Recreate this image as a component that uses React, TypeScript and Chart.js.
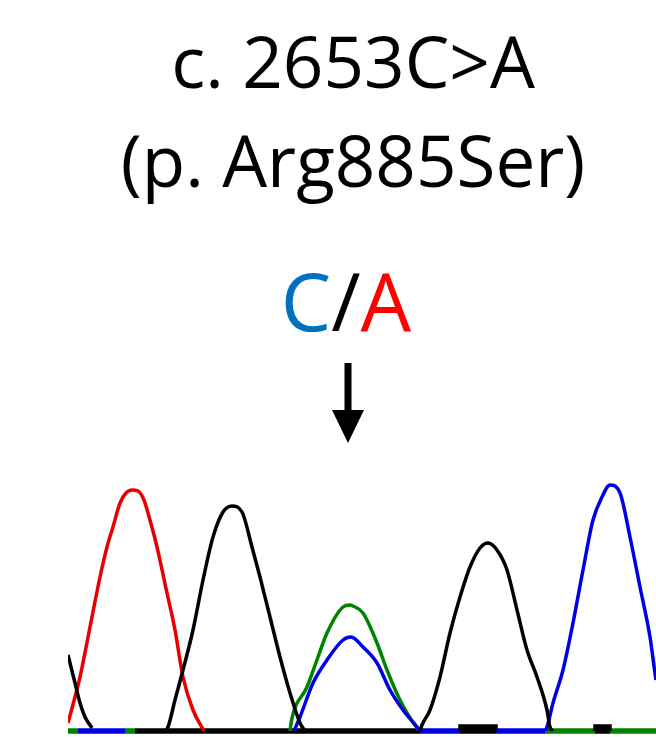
import { useEffect, useRef } from "react";
import { Chart, registerables } from "chart.js";

Chart.register(...registerables);

// Chromatogram traces: scan position (x) and signal intensity (y)
const redScan = [0, 12, 22, 32, 39, 45, 52, 58, 64, 70, 76, 80, 89, 99, 107, 115, 125, 136];
const redSignal = [8, 54, 104, 154, 184, 204, 228, 238, 241, 240, 231, 218, 184, 138, 101, 54, 21, 0];

const blackScan = [0, 7, 12, 17, 24, 60, 97, 100, 107, 115, 125, 135, 145, 155, 164, 174, 184, 192, 202, 212, 222, 232, 237, 300, 352, 354, 362, 372, 382, 392, 402, 412, 420, 429, 439, 449, 459, 469, 479, 482, 485];
const blackSignal = [76, 48, 28, 14, 3, null, 0, 4, 31, 61, 101, 151, 194, 219, 225, 219, 184, 154, 114, 74, 38, 8, 0, null, 0, 6, 21, 54, 98, 134, 164, 183, 188, 181, 161, 121, 81, 54, 21, 4, 0];

const greenScan = [222, 224, 239, 250, 259, 275, 282, 285, 295, 309, 319, 332, 349, 352];
const greenSignal = [0, 13, 44, 74, 98, 124, 126, 125, 118, 88, 61, 31, 3, 0];

const blueScan = [226, 232, 245, 259, 275, 283, 295, 309, 322, 335, 349, 352, 420, 477, 479, 485, 495, 505, 515, 525, 534, 542, 552, 562, 572, 582, 588, 594];
const blueSignal = [0, 14, 48, 71, 91, 94, 84, 68, 41, 21, 4, 0, null, 0, 4, 28, 61, 108, 161, 211, 234, 246, 238, 194, 144, 94, 51, 20];

// small black noise plateaus on the baseline
const noiseScan = [393, 393, 427, 427, 480, 528, 528, 541, 541];
const noiseSignal = [0, 4, 4, 0, null, 0, 4, 4, 0];

// baseline: which trace is on top along the scan
const baseStart = [0, 10, 57, 67, 352, 392, 428, 477, 527, 542];
const baseEnd = [10, 57, 67, 352, 392, 428, 477, 527, 542, 588];
const baseChannel = ["green", "blue", "green", "black", "blue", "black", "blue", "green", "black", "green"];

const COLORS: Record<string, string> = {
  red: "rgb(232,0,0)",
  black: "#000000",
  green: "rgb(0,132,0)",
  blue: "rgb(0,0,232)",
};

const FONT = "'Open Sans', 'Noto Sans', sans-serif";

export default function App() {
  const ref = useRef<HTMLCanvasElement>(null);

  useEffect(() => {
    const canvas = ref.current;
    if (!canvas) return;
    const pts = (xs: number[], ys: (number | null)[]) => xs.map((x, i) => ({ x, y: ys[i] }));
    const trace = (label: string, xs: number[], ys: (number | null)[], color: string, order: number) => ({
      label,
      data: pts(xs, ys),
      borderColor: color,
      backgroundColor: color,
      borderWidth: 3.5,
      pointRadius: 0,
      fill: false,
      spanGaps: false,
      cubicInterpolationMode: "monotone" as const,
      order,
    });
    const datasets: any[] = [
      trace("G", blackScan, blackSignal, COLORS.black, 1),
      trace("C", blueScan, blueSignal, COLORS.blue, 2),
      trace("T", redScan, redSignal, COLORS.red, 3),
      trace("A", greenScan, greenSignal, COLORS.green, 4),
      {
        ...trace("noise", noiseScan, noiseSignal, COLORS.black, 5),
        cubicInterpolationMode: "default",
        tension: 0,
        borderWidth: 5.5,
        clip: false,
      },
    ];
    baseStart.forEach((s, i) => {
      datasets.push({
        label: "baseline",
        data: [
          { x: s, y: 0 },
          { x: baseEnd[i], y: 0 },
        ],
        borderColor: COLORS[baseChannel[i]],
        borderWidth: 5.5,
        pointRadius: 0,
        fill: false,
        clip: false,
        order: 20,
      });
    });

    const chart = new Chart(canvas, {
      type: "line",
      data: { datasets },
      options: {
        animation: false,
        responsive: false,
        devicePixelRatio: 1,
        layout: { padding: { left: 68, right: 0, top: 470, bottom: 6 } },
        scales: {
          x: { type: "linear", min: 0, max: 588, display: false },
          y: { type: "linear", min: 0, max: 261, display: false },
        },
        plugins: { legend: { display: false }, tooltip: { enabled: false } },
        elements: { point: { radius: 0 } },
      },
    });
    return () => chart.destroy();
  }, []);

  const textStyle: React.CSSProperties = {
    position: "absolute",
    left: 53,
    width: 600,
    textAlign: "center",
    fontFamily: FONT,
    fontSize: 71,
    lineHeight: "71px",
    color: "#000",
    whiteSpace: "nowrap",
  };

  return (
    <div style={{ position: "fixed", left: 0, top: 0, width: 656, height: 737, background: "#fff", overflow: "hidden" }}>
      <canvas ref={ref} width={656} height={737} style={{ position: "absolute", left: 0, top: 0, width: 656, height: 737 }} />
      <div style={{ ...textStyle, top: 25 }}>c. 2653C&gt;A</div>
      <div style={{ ...textStyle, top: 124 }}>(p. Arg885Ser)</div>
      <div style={{ ...textStyle, left: 46, fontSize: 80, lineHeight: "80px", top: 260 }}>
        <span style={{ color: "rgb(0,112,192)" }}>C</span>
        <span style={{ color: "#000" }}>/</span>
        <span style={{ color: "#ff0000" }}>A</span>
      </div>
      <svg width={656} height={737} style={{ position: "absolute", left: 0, top: 0, pointerEvents: "none" }}>
        <rect x={344.5} y={363} width={7} height={49} fill="#000" />
        <polygon points="332,410 364,410 348,443" fill="#000" />
      </svg>
    </div>
  );
}
